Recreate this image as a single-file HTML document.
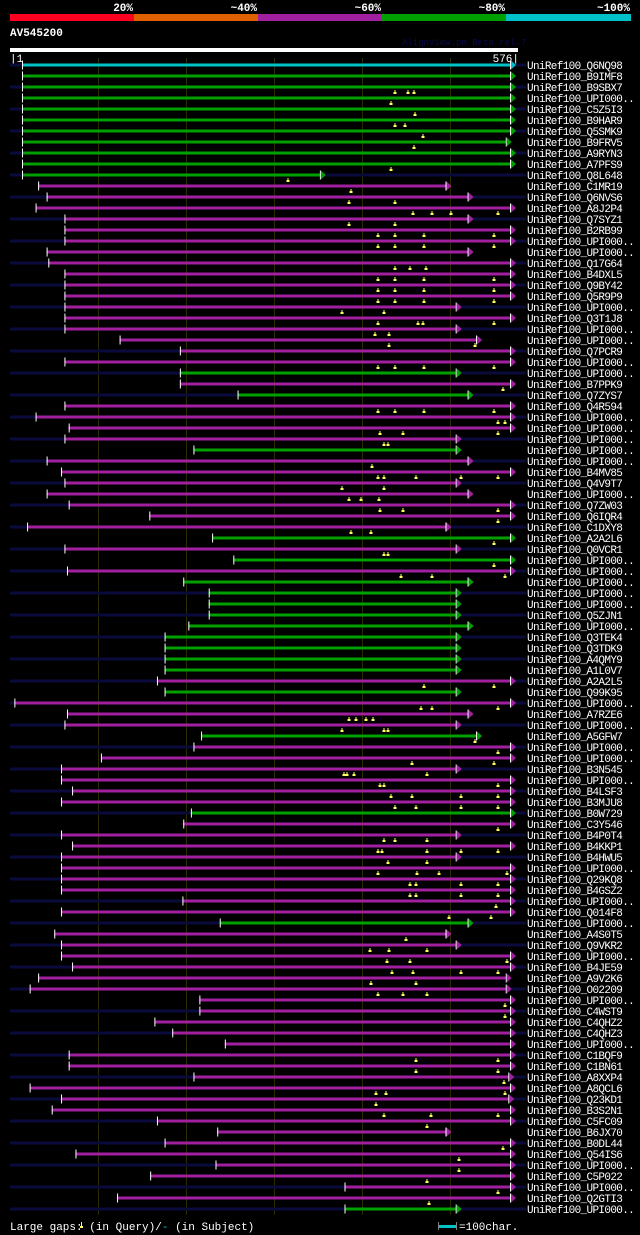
<!DOCTYPE html>
<html><head><meta charset="utf-8"><style>
html,body{margin:0;padding:0;background:#000;}
svg{display:block;}
text{font-family:"Liberation Mono","DejaVu Sans Mono",monospace;}
</style></head><body>
<svg id="chart" width="640" height="1235" viewBox="0 0 640 1235" xmlns="http://www.w3.org/2000/svg">
<rect x="0" y="0" width="640" height="1235" fill="#000"/>
<g id="header">
 <text x="133" y="11" fill="#fff" font-size="11" font-weight="bold" text-anchor="end">20%</text>
 <text x="257" y="11" fill="#fff" font-size="11" font-weight="bold" text-anchor="end">~40%</text>
 <text x="381" y="11" fill="#fff" font-size="11" font-weight="bold" text-anchor="end">~60%</text>
 <text x="505" y="11" fill="#fff" font-size="11" font-weight="bold" text-anchor="end">~80%</text>
 <text x="630" y="11" fill="#fff" font-size="11" font-weight="bold" text-anchor="end">~100%</text>
 <rect x="10" y="14" width="124" height="7" fill="#ff0020"/>
 <rect x="134" y="14" width="124" height="7" fill="#e06000"/>
 <rect x="258" y="14" width="124" height="7" fill="#a020a0"/>
 <rect x="382" y="14" width="124" height="7" fill="#00a000"/>
 <rect x="506" y="14" width="125" height="7" fill="#00c0c8"/>
 <text x="10" y="36" fill="#fff" font-size="11" font-weight="bold">AV545200</text>
 <text x="402" y="45" fill="#0a0a50" font-size="9">AlignView.pm Beta rel.7</text>
 <rect x="10" y="48" width="508" height="4" fill="#fff"/>
 <text x="10" y="62" fill="#fff" font-size="11">|1</text>
 <text x="519" y="62" fill="#fff" font-size="11" text-anchor="end">576|</text>
</g>
<g id="grid"></g>
<g id="rows"></g>
<g id="footer">
 <text x="10" y="1230" fill="#fff" font-size="11">Large gaps:<tspan fill="#000">_</tspan>(in Query)/<tspan fill="#00c0c8">-</tspan> (in Subject)</text>
 <path d="M80 1228 L83 1228 L83 1226 L82 1226 L82 1222 L81 1222 L81 1226 L80 1226 Z" fill="#ffff60"/>
 <rect x="439" y="1225" width="17" height="3" fill="#00c0c8"/>
 <rect x="438" y="1222" width="1" height="8" fill="#808080"/>
 <rect x="456" y="1222" width="1" height="8" fill="#808080"/>
 <text x="459" y="1230" fill="#fff" font-size="11">=100char.</text>
</g>
</svg>
<script>
const names = ["Q6NQ98","B9IMF8","B9SBX7","UPI000..","C5Z5I3","B9HAR9","Q5SMK9","B9FRV5","A9RYN3","A7PFS9","Q8L648","C1MR19","Q6NVS6","A8J2P4","Q7SYZ1","B2RB99","UPI000..","UPI000..","Q17G64","B4DXL5","Q9BY42","Q5R9P9","UPI000..","Q3T1J8","UPI000..","UPI000..","Q7PCR9","UPI000..","UPI000..","B7PPK9","Q7ZYS7","Q4R594","UPI000..","UPI000..","UPI000..","UPI000..","UPI000..","B4MV85","Q4V9T7","UPI000..","Q7ZW03","Q6IQR4","C1DXY8","A2A2L6","Q0VCR1","UPI000..","UPI000..","UPI000..","UPI000..","UPI000..","Q5ZJN1","UPI000..","Q3TEK4","Q3TDK9","A4QMY9","A1L0V7","A2A2L5","Q99K95","UPI000..","A7RZE6","UPI000..","A5GFW7","UPI000..","UPI000..","B3N545","UPI000..","B4LSF3","B3MJU8","B0W729","C3Y546","B4P0T4","B4KKP1","B4HWU5","UPI000..","Q29KQ8","B4GSZ2","UPI000..","Q014F8","UPI000..","A4S0T5","Q9VKR2","UPI000..","B4JE59","A9V2K6","O02209","UPI000..","C4WST9","C4QHZ2","C4QHZ3","UPI000..","C1BQF9","C1BN61","A8XXP4","A8QCL6","Q23KD1","B3S2N1","C5FC09","B6JX70","B0DL44","Q54IS6","UPI000..","C5P022","UPI000..","Q2GTI3","UPI000.."];
const identity = "C" + "GGGGGGGGGG" + "MMMMMMMMMMMMMMMMM" + "GMG" + "MMMM" + "G" + "MMMMMMM" + "GMGM" + "GGGGGGGGG" + "MGMMMG" + "MMMMMM" + "G" + "MMMMMMMMM" + "G" + "MMMMMMMMMMMMMMMMMMMMMMMMM" + "G";
const starts = [1,1,1,1,1,1,1,1,1,1,1,20,30,17,51,51,51,30,32,51,51,51,51,51,51,116,187,51,187,187,255,51,17,56,51,203,30,47,51,30,56,151,7,225,51,250,54,191,221,221,221,197,169,169,169,169,160,169,-8,54,51,212,203,94,47,47,60,47,200,191,47,60,47,47,47,47,190,47,234,39,47,47,60,20,10,210,210,157,178,240,56,56,203,10,47,36,160,231,169,64,229,152,381,113,381];
const ends = [576,576,576,576,576,576,576,571,576,576,352,500,526,576,526,576,576,526,576,576,576,576,512,576,512,536,576,576,512,576,526,576,576,576,512,512,526,576,512,526,576,576,500,576,512,576,576,526,512,512,512,526,512,512,512,512,576,512,576,526,512,536,576,576,512,576,576,576,576,576,512,576,512,576,576,576,576,576,526,500,512,576,576,571,571,576,576,576,576,576,576,576,574,576,574,576,576,500,576,576,576,576,576,576,512];
const gaps = [[],[],[440,456,463],[436],[464],[440,452],[473],[463],[],[436],[314],[389],[386,440],[462,484,506,562],[386,440],[420,440,475,557],[420,440,475,557],[],[440,458,477],[420,440,475,557],[420,440,475,557],[420,440,475,557],[378,428],[420,468,473,557],[417,434],[434,535],[],[420,440,475,557],[],[568],[],[420,440,475,557],[562,570],[423,450,562],[428,432],[],[413],[420,428,465,518,562],[378,428],[386,400,422],[423,450,562],[562],[389,412],[557],[428,432],[557],[447,484,570],[],[],[],[],[],[],[],[],[],[475,557],[],[471,484,562],[386,394,406,414],[378,428,432],[535],[562],[460,557],[380,384,392,478],[423,428,562],[436,460,518,562],[440,465,518,562],[],[562],[428,441,478],[420,425,478,518,562],[432,478],[420,466,492,572],[458,465,518,562],[458,465,518,562],[559],[504,554],[],[454],[411,434,478],[431,458,572],[437,462,518,562],[412,465],[420,450,478],[570],[570],[],[],[],[465,562],[465,562],[569],[418,430,570],[418],[428,483,562],[478],[],[568],[516],[516],[478],[562],[480],[]];

const X0 = 22, X1 = 510, Q0 = 1, Q1 = 576;
function xScale(r){ return X0 + (r - Q0) * (X1 - X0) / (Q1 - Q0); }
function yRow(i){ return 65 + i * 11; }
const palette = {C:"#00c0c8", G:"#00a000", M:"#a020a0"};
const NS = "http://www.w3.org/2000/svg";
function mk(tag, attrs, parent){ const e=document.createElementNS(NS,tag); for(const k in attrs) e.setAttribute(k,attrs[k]); parent.appendChild(e); return e; }

const grid = document.getElementById('grid');
[98,186,274,362,450].forEach(function(gx){
  const l = mk('rect',{x:gx,y:58,width:1,height:1157,fill:'#2c2c00'},grid);
  
  
});

const rowsG = document.getElementById('rows');
names.forEach(function(nm, i){
  const y = yRow(i);
  const g = mk('g',{},rowsG);
  
  
  if (i % 2 === 0) {
    const bg = mk('rect',{x:10,y:y-1.5,width:516,height:3,fill:'#0a0a3c'},g);
    
    
  }
  const col = palette[identity[i]];
  const sx = xScale(starts[i]), ex = xScale(ends[i]);
  const bar = mk('rect',{x:sx,y:y-1.5,width:ex-sx,height:3,fill:col},g);
  
  
  const st = mk('rect',{x:sx,y:y-4.5,width:1,height:9,fill:'#fff'},g);
  
  
  const et = mk('rect',{x:ex,y:y-4.5,width:1,height:9,fill:'#fff'},g);
  
  
  const ar = mk('polygon',{points:(ex+1)+','+(y-4.5)+' '+(ex+6)+','+y+' '+(ex+1)+','+(y+4.5),fill:col},g);
  
  
  gaps[i].forEach(function(gp){
    const gx = Math.round(xScale(gp));
    const m = mk('path',{d:'M'+(gx-1.5)+' '+(y+7)+' L'+(gx+1.5)+' '+(y+7)+' L'+(gx+1.5)+' '+(y+5)+' L'+(gx+0.5)+' '+(y+5)+' L'+(gx+0.5)+' '+(y+3)+' L'+(gx-0.5)+' '+(y+3)+' L'+(gx-0.5)+' '+(y+5)+' L'+(gx-1.5)+' '+(y+5)+' Z',fill:'#ffff60'},g);
    
    
  });
  const t = mk('text',{x:527,y:y+4,fill:'#fff','font-size':'11','letter-spacing':'-0.65'},g);
  t.textContent = 'UniRef100_' + nm;
  
  
});
</script>
</body></html>
